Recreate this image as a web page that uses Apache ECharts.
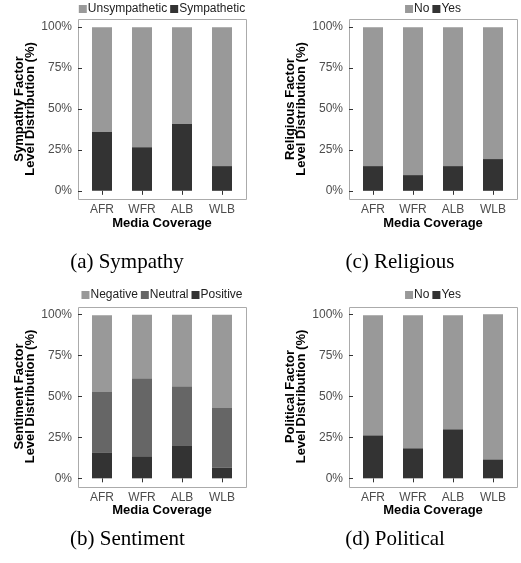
<!DOCTYPE html>
<html>
<head>
<meta charset="utf-8">
<script src="https://cdn.jsdelivr.net/npm/echarts@6/dist/echarts.min.js"></script>
<style>
html,body{margin:0;padding:0;background:#fff;}
#c{width:521px;height:563px;}
</style>
</head>
<body>
<div id="c"></div>
<script>
const categories = ['AFR', 'WFR', 'ALB', 'WLB'];
const yTicks = [0, 25, 50, 75, 100];

// (a) Sympathy
const sympathetic = [35.9, 26.7, 40.8, 15.1];
const unsympathetic = [64.1, 73.3, 59.2, 84.9];
// (c) Religious
const religiousYes = [15.1, 9.6, 15.1, 19.4];
const religiousNo = [84.9, 90.4, 84.9, 80.6];
// (b) Sentiment
const positive = [15.9, 13.5, 20.2, 6.7];
const neutral = [36.8, 47.7, 36.1, 36.2];
const negative = [46.9, 38.8, 43.7, 57.1];
// (d) Political
const politicalYes = [26.3, 18.4, 30.0, 11.6];
const politicalNo = [73.3, 81.2, 69.6, 88.6];

const COL_LIGHT = '#999999', COL_MID = '#666666', COL_DARK = '#333333';

const panels = [
  { left: 78, top: 19, ytitle: 'Sympathy Factor\nLevel Distribution (%)', legendMid: 8,
    series: [{ name: 'Sympathetic', data: sympathetic, color: COL_DARK },
             { name: 'Unsympathetic', data: unsympathetic, color: COL_LIGHT }],
    legend: ['Unsympathetic', 'Sympathetic'] },
  { left: 349, top: 19, ytitle: 'Religious Factor\nLevel Distribution (%)', legendMid: 8,
    series: [{ name: 'Yes', data: religiousYes, color: COL_DARK },
             { name: 'No', data: religiousNo, color: COL_LIGHT }],
    legend: ['No', 'Yes'] },
  { left: 78, top: 306.5, ytitle: 'Sentiment Factor\nLevel Distribution (%)', legendMid: 294,
    series: [{ name: 'Positive', data: positive, color: COL_DARK },
             { name: 'Neutral', data: neutral, color: COL_MID },
             { name: 'Negative', data: negative, color: COL_LIGHT }],
    legend: ['Negative', 'Neutral', 'Positive'] },
  { left: 349, top: 306.5, ytitle: 'Political Factor\nLevel Distribution (%)', legendMid: 294,
    series: [{ name: 'Yes', data: politicalYes, color: COL_DARK },
             { name: 'No', data: politicalNo, color: COL_LIGHT }],
    legend: ['No', 'Yes'] }
];

const PW = 168, PH = 180, PAD = 4; // frame width; bands of 40px with 0.6-band padding
const grid = [], xAxis = [], yAxis = [], series = [], legend = [], graphic = [];
const tickColor = '#333333', labelColor = '#4d4d4d';
const FONT = 'Liberation Sans';
const LEG_FS = 12, ICON = 8, GAP = 3;

const mctx = document.createElement('canvas').getContext('2d');
mctx.font = LEG_FS + 'px "' + FONT + '"';
function legendWidth(names) {
  let w = 0;
  names.forEach((n, k) => { w += ICON + 1 + mctx.measureText(n).width + (k ? GAP : 0); });
  return w;
}

panels.forEach((p, i) => {
  grid.push({ left: p.left + PAD, top: p.top, width: PW - 2 * PAD, height: PH, containLabel: false });
  graphic.push({ type: 'rect', silent: true, z: 0,
    shape: { x: p.left + 0.5, y: Math.round(p.top) + 0.5, width: PW, height: PH },
    style: { fill: 'none', stroke: '#ababab', lineWidth: 1 } });
  xAxis.push({ type: 'category', gridIndex: i, data: categories, boundaryGap: true,
    name: 'Media Coverage', nameLocation: 'middle', nameGap: 16,
    nameTextStyle: { fontFamily: FONT, fontWeight: 'bold', fontSize: 13, color: '#000' },
    axisLine: { show: false },
    axisTick: { show: true, alignWithLabel: true, length: 4, lineStyle: { color: tickColor } },
    axisLabel: { margin: 5, fontFamily: FONT, fontSize: 12, color: labelColor },
    splitLine: { show: false } });
  yAxis.push({ type: 'value', gridIndex: i, min: -5, max: 105,
    name: p.ytitle, nameLocation: 'middle', nameGap: 41, nameRotate: 90,
    nameTextStyle: { fontFamily: FONT, fontWeight: 'bold', fontSize: 13, color: '#000', lineHeight: 11.5, align: 'center' },
    axisLine: { show: false },
    axisTick: { show: true, length: 4, lineStyle: { color: tickColor }, customValues: yTicks },
    axisLabel: { customValues: yTicks, margin: 6 + PAD, fontFamily: FONT, fontSize: 12, color: labelColor,
      formatter: v => v + '%' },
    splitLine: { show: false } });
  p.series.forEach(s => {
    series.push({ type: 'bar', name: s.name, xAxisIndex: i, yAxisIndex: i, stack: 'p' + i,
      barWidth: '50%', itemStyle: { color: s.color }, emphasis: { disabled: true },
      data: s.data });
  });
  const lw = legendWidth(p.legend);
  legend.push({ data: p.legend, top: p.legendMid - 5, left: p.left + PW / 2 - lw / 2, padding: 0,
    itemWidth: ICON, itemHeight: ICON, itemGap: GAP, icon: 'rect', selectedMode: false,
    textStyle: { fontFamily: FONT, fontSize: LEG_FS, color: '#222', padding: [0, 0, 0, -4] } });
});

const captions = [
  { text: '(a) Sympathy', x: 127, y: 262 },
  { text: '(c) Religious', x: 400, y: 262 },
  { text: '(b) Sentiment', x: 127.5, y: 539 },
  { text: '(d) Political', x: 395, y: 539 }
];
captions.forEach(c => graphic.push({ type: 'text', x: c.x, y: c.y, silent: true,
  style: { text: c.text, font: '21px "Liberation Serif"', fill: '#000', align: 'center', verticalAlign: 'middle',
           textAlign: 'center', textVerticalAlign: 'middle' } }));

const chart = echarts.init(document.getElementById('c'), null, { renderer: 'canvas' });
chart.setOption({
  animation: false,
  backgroundColor: '#fff',
  grid, xAxis, yAxis, series, legend, graphic
});
</script>
</body>
</html>
